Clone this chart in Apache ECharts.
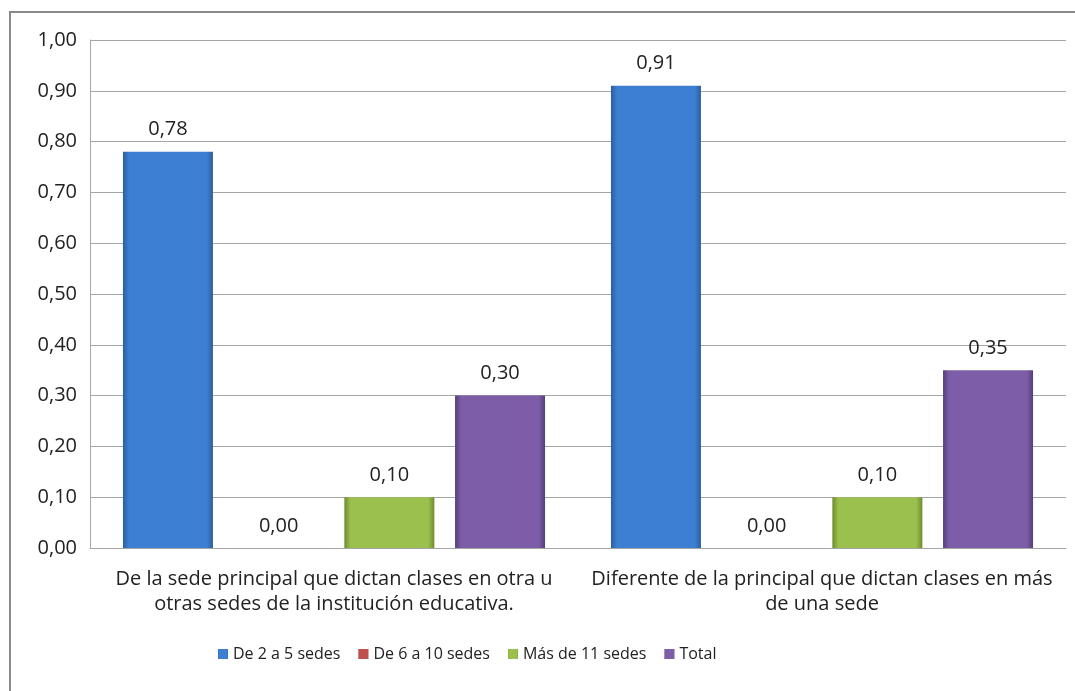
<!DOCTYPE html>
<html>
<head>
<meta charset="utf-8">
<script src="https://cdn.jsdelivr.net/npm/echarts@6/dist/echarts.min.js"></script>
<style>
  html, body { margin: 0; padding: 0; background: #fff; }
  #chart { width: 1075px; height: 691px; }
</style>
</head>
<body>
<div id="chart"></div>
<script>
const categories = [
    'De la sede principal que dictan clases en otra u\notras sedes de la institución educativa.',
    'Diferente de la principal que dictan clases en más\nde una sede'
];
const seriesNames = ['De 2 a 5 sedes', 'De 6 a 10 sedes', 'Más de 11 sedes', 'Total'];
const de2a5 = [0.78, 0.91];
const de6a10 = [0.00, 0.00];
const mas11 = [0.10, 0.10];
const total = [0.30, 0.35];

const colors = [
    { edge: '#2c5f9e', main: '#3d7fd3' },
    { edge: '#8e2f2c', main: '#c0504d' },
    { edge: '#6f8c2f', main: '#9bc04d' },
    { edge: '#553f78', main: '#7d5ca8' }
];

const font = '"Open Sans", Lato, sans-serif';
const fmt = v => Number(v).toFixed(2).replace('.', ',');

const chartDom = document.getElementById('chart');
const myChart = echarts.init(chartDom);

// horizontal gradient, darker at both sides (rough bevel look)
function bevel(c) {
    return new echarts.graphic.LinearGradient(0, 0, 1, 0, [
        { offset: 0, color: c.edge },
        { offset: 0.07, color: c.main },
        { offset: 0.93, color: c.main },
        { offset: 1, color: c.edge }
    ]);
}

const data = [de2a5, de6a10, mas11, total];

const option = {
    animation: false,
    textStyle: { fontFamily: font },
    graphic: [
        {
            type: 'rect',
            shape: { x: 10, y: 12, width: 1200, height: 800 },
            style: { fill: 'none', stroke: '#8a8a8a', lineWidth: 2 },
            silent: true
        }
    ],
    grid: {
        left: 90,
        right: 9,
        top: 40,
        bottom: 143
    },
    legend: {
        bottom: 24,
        left: 213,
        itemWidth: 10,
        itemHeight: 10,
        itemGap: 18,
        icon: 'rect',
        textStyle: { fontFamily: font, fontSize: 16, color: '#222' },
        data: seriesNames
    },
    xAxis: {
        type: 'category',
        data: categories,
        axisLine: { lineStyle: { color: '#a6a6a6', width: 1 } },
        axisTick: { show: false },
        axisLabel: {
            fontFamily: font,
            fontSize: 20,
            color: '#222',
            lineHeight: 25,
            margin: 19,
            interval: 0
        }
    },
    yAxis: {
        type: 'value',
        min: 0,
        max: 1,
        interval: 0.1,
        axisLine: { show: true, lineStyle: { color: '#a6a6a6' } },
        axisTick: { show: false },
        splitLine: { lineStyle: { color: '#a6a6a6' } },
        axisLabel: {
            fontFamily: font,
            fontSize: 20,
            color: '#222',
            margin: 13,
            formatter: fmt
        }
    },
    series: seriesNames.map((name, i) => ({
        name: name,
        type: 'bar',
        data: data[i],
        barWidth: 90,
        barGap: '23%',
        itemStyle: {
            color: bevel(colors[i]),
            borderWidth: 0
        },
        label: {
            show: true,
            position: 'top',
            distance: 12,
            fontFamily: font,
            fontSize: 20,
            color: '#222',
            formatter: p => fmt(p.value)
        }
    })),
    color: colors.map(c => c.main)
};

myChart.setOption(option);
</script>
</body>
</html>
